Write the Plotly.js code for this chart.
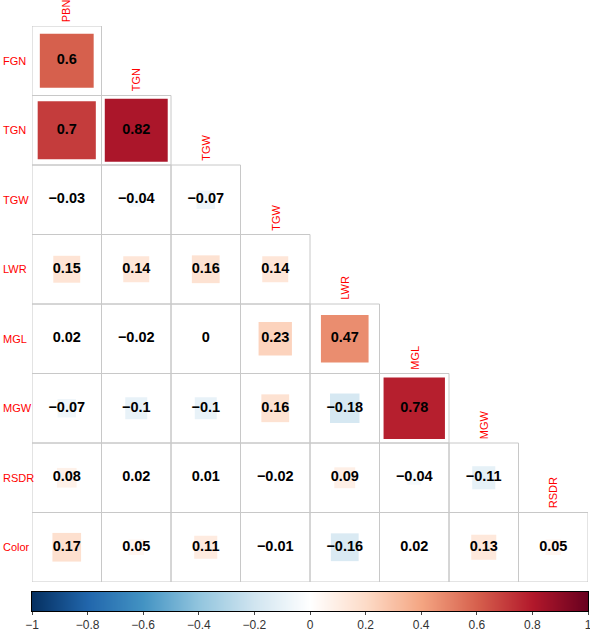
<!DOCTYPE html>
<html>
<head>
<meta charset="utf-8">
<script src="https://cdn.plot.ly/plotly-3.0.1.min.js"></script>
<style>
  html, body { margin: 0; padding: 0; background: #fff; }
  #chart { width: 590px; height: 632px; }
</style>
</head>
<body>
<div id="chart"></div>
<script>
// Lower-triangle correlation matrix of grain traits
const rowLabels = ["FGN", "TGN", "TGW", "LWR", "MGL", "MGW", "RSDR", "Color"];
const colLabels = ["PBN", "TGN", "TGW", "TGW", "LWR", "MGL", "MGW", "RSDR"];

const rFGN   = [0.6];
const rTGN   = [0.7, 0.82];
const rTGW   = [-0.03, -0.04, -0.07];
const rLWR   = [0.15, 0.14, 0.16, 0.14];
const rMGL   = [0.02, -0.02, 0, 0.23, 0.47];
const rMGW   = [-0.07, -0.1, -0.1, 0.16, -0.18, 0.78];
const rRSDR  = [0.08, 0.02, 0.01, -0.02, 0.09, -0.04, -0.11];
const rColor = [0.17, 0.05, 0.11, -0.01, -0.16, 0.02, 0.13, 0.05];
const matrix = [rFGN, rTGN, rTGW, rLWR, rMGL, rMGW, rRSDR, rColor];

// Colour legend: end points of the scale and its tick values
const scaleEnds = [-1, 1];
const colorbarTicks = [-1, -0.8, -0.6, -0.4, -0.2, 0, 0.2, 0.4, 0.6, 0.8, 1];

// Diverging red/blue palette, -1 (blue) to +1 (red)
const palette = ["#053061", "#2166AC", "#4393C3", "#92C5DE", "#D1E5F0", "#FFFFFF",
                 "#FDDBC7", "#F4A582", "#D6604D", "#B2182B", "#67001F"];
const colorscale = palette.map((c, i) => [i / (palette.length - 1), c]);

// Page geometry
const W = 590, H = 632;
const margin = { l: 32, r: 2, t: 26, b: 21 };
const nCols = colLabels.length;
const plotW = W - margin.l - margin.r;
const plotH = H - margin.t - margin.b;
const cellPx = plotW / nCols;
const gridPx = cellPx * rowLabels.length;
const barPx = 19;
const mainDomain = [(plotH - gridPx) / plotH, 1];
const barDomain = [0, barPx / plotH];

const FONT = "Liberation Sans, Arial, sans-serif";

// Flatten matrix into cell records
const xs = [], ys = [], vals = [], sizes = [], texts = [];
matrix.forEach((row, i) => {
  row.forEach((v, j) => {
    xs.push(j);
    ys.push(i);
    vals.push(v);
    // square area proportional to |r|
    sizes.push(Math.sqrt(Math.abs(v)) * cellPx);
    texts.push(String(v).replace("-", "\u2212"));
  });
});

// Cell outlines
const shapes = [];
matrix.forEach((row, i) => {
  row.forEach((v, j) => {
    shapes.push({
      type: "rect", xref: "x", yref: "y",
      x0: j - 0.5, x1: j + 0.5, y0: i - 0.5, y1: i + 0.5,
      line: { color: "#C8C8C8", width: 1 },
      fillcolor: "rgba(0,0,0,0)", layer: "below"
    });
  });
});

// Column names above the first cell of each column
const annotations = colLabels.map((name, j) => ({
  x: j, y: j - 0.5, xref: "x", yref: "y",
  text: name, showarrow: false, textangle: -90,
  xanchor: "center", yanchor: "bottom", yshift: 2,
  font: { family: FONT, size: 11, color: "#FF0000" }
}));

// Row names, left-aligned at the page edge
rowLabels.forEach((name, i) => {
  annotations.push({
    x: -0.5, y: i, xref: "x", yref: "y",
    text: name, showarrow: false,
    xanchor: "left", yanchor: "middle", xshift: -margin.l + 1,
    font: { family: FONT, size: 11, color: "#FF0000" }
  });
});

const squares = {
  type: "scatter",
  mode: "markers",
  x: xs, y: ys,
  xaxis: "x", yaxis: "y",
  hoverinfo: "skip",
  marker: {
    symbol: "square",
    size: sizes,
    color: vals,
    cmin: -1, cmax: 1,
    colorscale: colorscale,
    line: { width: 0 },
    opacity: 1,
    showscale: false
  }
};

const labels = {
  type: "scatter",
  mode: "text",
  x: xs, y: ys,
  xaxis: "x", yaxis: "y",
  text: texts,
  hoverinfo: "skip",
  textposition: "middle center",
  textfont: { family: FONT, size: 14.5, color: "#000", weight: "bold" }
};

// Continuous colour legend: a two-cell heatmap smoothed across the scale
const legendBar = {
  type: "heatmap",
  x: scaleEnds,
  y: [0],
  z: [scaleEnds],
  xaxis: "x2", yaxis: "y2",
  zmin: -1, zmax: 1,
  zsmooth: "best",
  colorscale: colorscale,
  showscale: false,
  hoverinfo: "skip"
};

const layout = {
  width: W, height: H,
  margin: margin,
  paper_bgcolor: "#FFFFFF",
  plot_bgcolor: "rgba(0,0,0,0)",
  showlegend: false,
  xaxis: {
    range: [-0.5, nCols - 0.5],
    visible: false, fixedrange: true
  },
  yaxis: {
    domain: mainDomain,
    range: [rowLabels.length - 0.5, -0.5],
    visible: false, fixedrange: true
  },
  xaxis2: {
    anchor: "y2",
    range: scaleEnds,
    tickmode: "array",
    tickvals: colorbarTicks,
    ticks: "outside", ticklen: 3, tickwidth: 1, tickcolor: "#444",
    ticklabelstandoff: 0,
    ticklabeloverflow: "allow",
    showline: true, mirror: true, linecolor: "#000", linewidth: 1,
    showgrid: false, zeroline: false, automargin: false, fixedrange: true,
    tickfont: { family: FONT, size: 12, color: "#333" }
  },
  yaxis2: {
    anchor: "x2",
    domain: barDomain,
    range: [-0.5, 0.5],
    showticklabels: false, ticks: "",
    showline: true, mirror: true, linecolor: "#000", linewidth: 1,
    showgrid: false, zeroline: false, automargin: false, fixedrange: true
  },
  shapes: shapes,
  annotations: annotations
};

Plotly.newPlot("chart", [squares, labels, legendBar], layout, { displayModeBar: false, staticPlot: true });
</script>
</body>
</html>
